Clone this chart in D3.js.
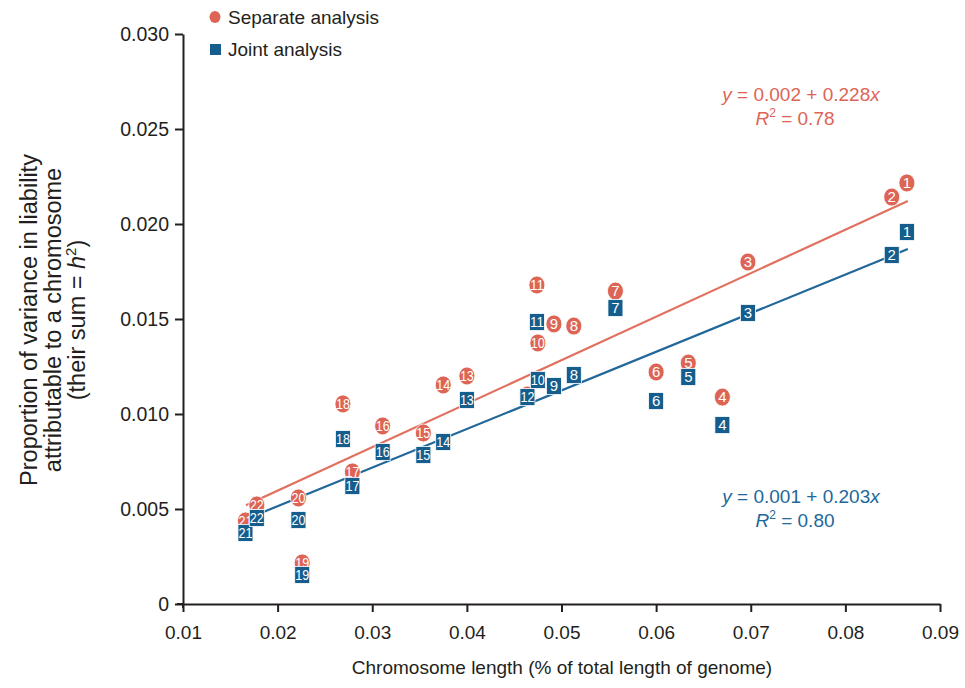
<!DOCTYPE html>
<html>
<head>
<meta charset="utf-8">
<script src="https://cdn.jsdelivr.net/npm/d3@7"></script>
<style>
  html, body { margin: 0; padding: 0; background: #fff; }
  svg { display: block; font-family: "Liberation Sans", Arial, sans-serif; }
</style>
</head>
<body>
<svg id="chart" width="965" height="688"></svg>
<script>
// ---------------- data ----------------
const chromosomes = ["1","2","3","4","5","6","7","8","9","10","11","12","13","14","15","16","17","18","19","20","21","22"];
const chromLength = [0.0865,0.0849,0.0697,0.0670,0.0634,0.0600,0.0557,0.0513,0.0492,0.0475,0.0474,0.0464,0.0400,0.0375,0.0354,0.0311,0.0279,0.0269,0.0226,0.0222,0.0166,0.0178];
const separateValues = [0.02216,0.02142,0.0180,0.01089,0.01268,0.01221,0.01647,0.01463,0.01474,0.01374,0.01679,0.01100,0.0120,0.01153,0.0090,0.00937,0.00695,0.01053,0.00216,0.00558,0.00437,0.00521];
const jointValues = [0.01958,0.01837,0.01532,0.00942,0.01195,0.01068,0.01558,0.01205,0.01147,0.01179,0.01484,0.01089,0.01074,0.00853,0.00784,0.0080,0.00621,0.00868,0.00153,0.00442,0.00374,0.00453];
const separateFit = [[0.01666, 0.0052], [0.0866, 0.02121]];
const jointFit = [[0.01666, 0.00447], [0.0866, 0.01868]];
const xTicks = [0.01,0.02,0.03,0.04,0.05,0.06,0.07,0.08,0.09];
const yTicks = [0,0.005,0.010,0.015,0.020,0.025,0.030];
const seriesNames = ["Separate analysis", "Joint analysis"];

// ---------------- style ----------------
const RED = "#dc6556";
const RED_LINE = "#e2705f";
const BLUE = "#155d8c";
const BLUE_LINE = "#22679a";
const INK = "#231f20";

const svg = d3.select("#chart");
const x = d3.scaleLinear().domain([0.01, 0.09]).range([183, 940]);
const y = d3.scaleLinear().domain([0, 0.03]).range([604, 34]);

// axes
const xAxis = d3.axisBottom(x).tickValues(xTicks).tickFormat(d3.format(".2f")).tickSize(8).tickSizeOuter(0).tickPadding(14);
const yAxis = d3.axisLeft(y).tickValues(yTicks).tickFormat(d => d === 0 ? "0" : d.toFixed(3)).tickSize(8).tickSizeOuter(0).tickPadding(6);

const gx = svg.append("g").attr("transform", "translate(0,604)").call(xAxis);
const gy = svg.append("g").attr("transform", "translate(183,0)").call(yAxis);
[gx, gy].forEach(g => {
  g.select(".domain").attr("stroke", INK).attr("stroke-width", 2);
  g.selectAll(".tick line").attr("stroke", INK).attr("stroke-width", 2);
  g.selectAll(".tick text").attr("fill", INK).attr("font-family", "Liberation Sans, Arial, sans-serif");
});
gx.selectAll(".tick text").attr("font-size", 19);
gy.selectAll(".tick text").attr("font-size", 19.5).attr("dy", "0.35em");
gx.append("line").attr("x1", 177).attr("x2", 183).attr("y1", 0).attr("y2", 0).attr("stroke", INK).attr("stroke-width", 2);
gy.append("line").attr("x1", 0).attr("x2", 0).attr("y1", y(0)).attr("y2", y(0) + 4).attr("stroke", INK).attr("stroke-width", 2);

// axis titles
svg.append("text").attr("x", 562).attr("y", 674).attr("text-anchor", "middle")
  .attr("font-size", 19).attr("fill", INK)
  .text("Chromosome length (% of total length of genome)");

const yt = svg.append("g").attr("transform", "translate(0,320) rotate(-90)");
yt.append("text").attr("x", 0).attr("y", 37).attr("text-anchor", "middle").attr("font-size", 23.5).attr("fill", INK)
  .text("Proportion of variance in liability");
yt.append("text").attr("x", 0).attr("y", 61).attr("text-anchor", "middle").attr("font-size", 23.5).attr("fill", INK)
  .text("attributable to a chromosome");
const t3 = yt.append("text").attr("x", 0).attr("y", 85).attr("text-anchor", "middle").attr("font-size", 23.5).attr("fill", INK);
t3.append("tspan").text("(their sum = ");
t3.append("tspan").attr("font-style", "italic").text("h");
t3.append("tspan").attr("font-size", 15).attr("dy", -9).text("2");
t3.append("tspan").attr("dy", 9).text(")");

// regression lines
const line = d3.line().x(d => x(d[0])).y(d => y(d[1]));
svg.append("path").datum(separateFit).attr("d", line).attr("stroke", RED_LINE).attr("stroke-width", 2.2).attr("fill", "none");
svg.append("path").datum(jointFit).attr("d", line).attr("stroke", BLUE_LINE).attr("stroke-width", 2.2).attr("fill", "none");

// markers
const sepData = chromosomes.map((c, i) => ({c, x: chromLength[i], y: separateValues[i]}));
const jointData = chromosomes.map((c, i) => ({c, x: chromLength[i], y: jointValues[i]}));

function addLabel(g) {
  g.append("text").attr("text-anchor", "middle").attr("dy", "0.36em").attr("font-size", 15)
    .attr("fill", "#fff")
    .each(function(d) {
      if (d.c.length > 1) d3.select(this).attr("textLength", 14).attr("lengthAdjust", "spacingAndGlyphs");
    })
    .text(d => d.c);
}

const sepG = svg.append("g").selectAll("g").data(sepData).join("g")
  .attr("transform", d => `translate(${x(d.x)},${y(d.y)})`);
sepG.append("ellipse").attr("rx", 8).attr("ry", 9).attr("fill", RED).attr("stroke", "#fff").attr("stroke-width", 0.8);
addLabel(sepG);

const jointG = svg.append("g").selectAll("g").data(jointData).join("g")
  .attr("transform", d => `translate(${x(d.x)},${y(d.y)})`);
jointG.append("rect").attr("x", -7.5).attr("y", -8.5).attr("width", 15).attr("height", 17)
  .attr("fill", BLUE).attr("stroke", "#fff").attr("stroke-width", 0.8);
addLabel(jointG);

// legend
const lg = svg.append("g");
lg.append("ellipse").attr("cx", 215).attr("cy", 17).attr("rx", 5.5).attr("ry", 6).attr("fill", RED);
lg.append("text").attr("x", 228).attr("y", 24).attr("font-size", 19).attr("fill", INK).text(seriesNames[0]);
lg.append("rect").attr("x", 210).attr("y", 44).attr("width", 11).attr("height", 11).attr("fill", BLUE);
lg.append("text").attr("x", 228).attr("y", 56).attr("font-size", 19).attr("fill", INK).text(seriesNames[1]);

// equations
function equation(cx, cy, color, a, b, r2) {
  const t1 = svg.append("text").attr("x", cx).attr("y", cy).attr("text-anchor", "middle").attr("font-size", 19).attr("fill", color);
  t1.append("tspan").attr("font-style", "italic").text("y");
  t1.append("tspan").text(` = ${a} + ${b}`);
  t1.append("tspan").attr("font-style", "italic").text("x");
  const t2 = svg.append("text").attr("x", cx - 6).attr("y", cy + 24).attr("text-anchor", "middle").attr("font-size", 19).attr("fill", color);
  t2.append("tspan").attr("font-style", "italic").text("R");
  t2.append("tspan").attr("font-size", 12).attr("dy", -8).text("2");
  t2.append("tspan").attr("dy", 8).text(` = ${r2}`);
}
equation(801, 101, RED, "0.002", "0.228", "0.78");
equation(801, 503, BLUE_LINE, "0.001", "0.203", "0.80");
</script>
</body>
</html>
